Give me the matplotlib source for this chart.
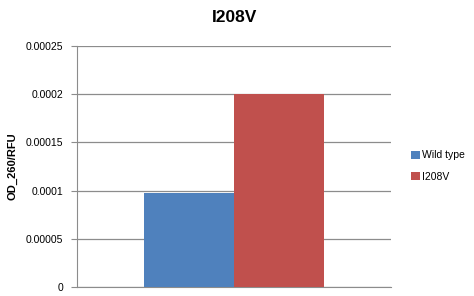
import matplotlib
matplotlib.use("Agg")
import matplotlib.pyplot as plt
import numpy as np

title = "I208V"
series_names = ["Wild type", "I208V"]
series_values = [0.000098, 0.0002]
colors = ["#4F81BD", "#C0504D"]
yticks = [0, 0.00005, 0.0001, 0.00015, 0.0002, 0.00025]
ytick_labels = ["0", "0.00005", "0.0001", "0.00015", "0.0002", "0.00025"]

plt.rcParams['font.family'] = ['Liberation Sans', 'DejaVu Sans']

fig = plt.figure(figsize=(4.74, 2.96), dpi=100)
ax = fig.add_axes([77/474, 1-287/296, 314/474, 241/296])

width = 0.2866
n = len(series_values)
offsets = (np.arange(n) - (n-1)/2) * width
for i in range(n):
    ax.bar(0 + offsets[i], series_values[i], width=width, color=colors[i],
           label=series_names[i], zorder=3)

ax.set_xlim(-0.5, 0.5)
ax.set_ylim(0, 0.00025)
ax.set_yticks(yticks)
ax.set_yticklabels(ytick_labels, fontsize=7.5)
ax.set_xticks([])
ax.yaxis.grid(True, color="#8C8C8C", linewidth=0.9, zorder=0)
for s in ["top", "right"]:
    ax.spines[s].set_visible(False)
ax.spines["left"].set_color("#8C8C8C")
ax.spines["bottom"].set_color("#8C8C8C")
ax.tick_params(axis="y", length=4, color="#8C8C8C", pad=6)

ax.set_ylabel("OD_260/RFU", fontsize=8, fontweight="bold", labelpad=6)
fig.text(235/474, 1-18/296, title, fontsize=12.5, fontweight="bold",
         ha="center", va="center")

fig.legend(loc="center left", bbox_to_anchor=(402/474, 1-166/296),
           frameon=False, fontsize=7.5, handlelength=0.8, handleheight=0.8,
           handletextpad=0.2, labelspacing=1.1)

fig.savefig("out.png", dpi=100)
